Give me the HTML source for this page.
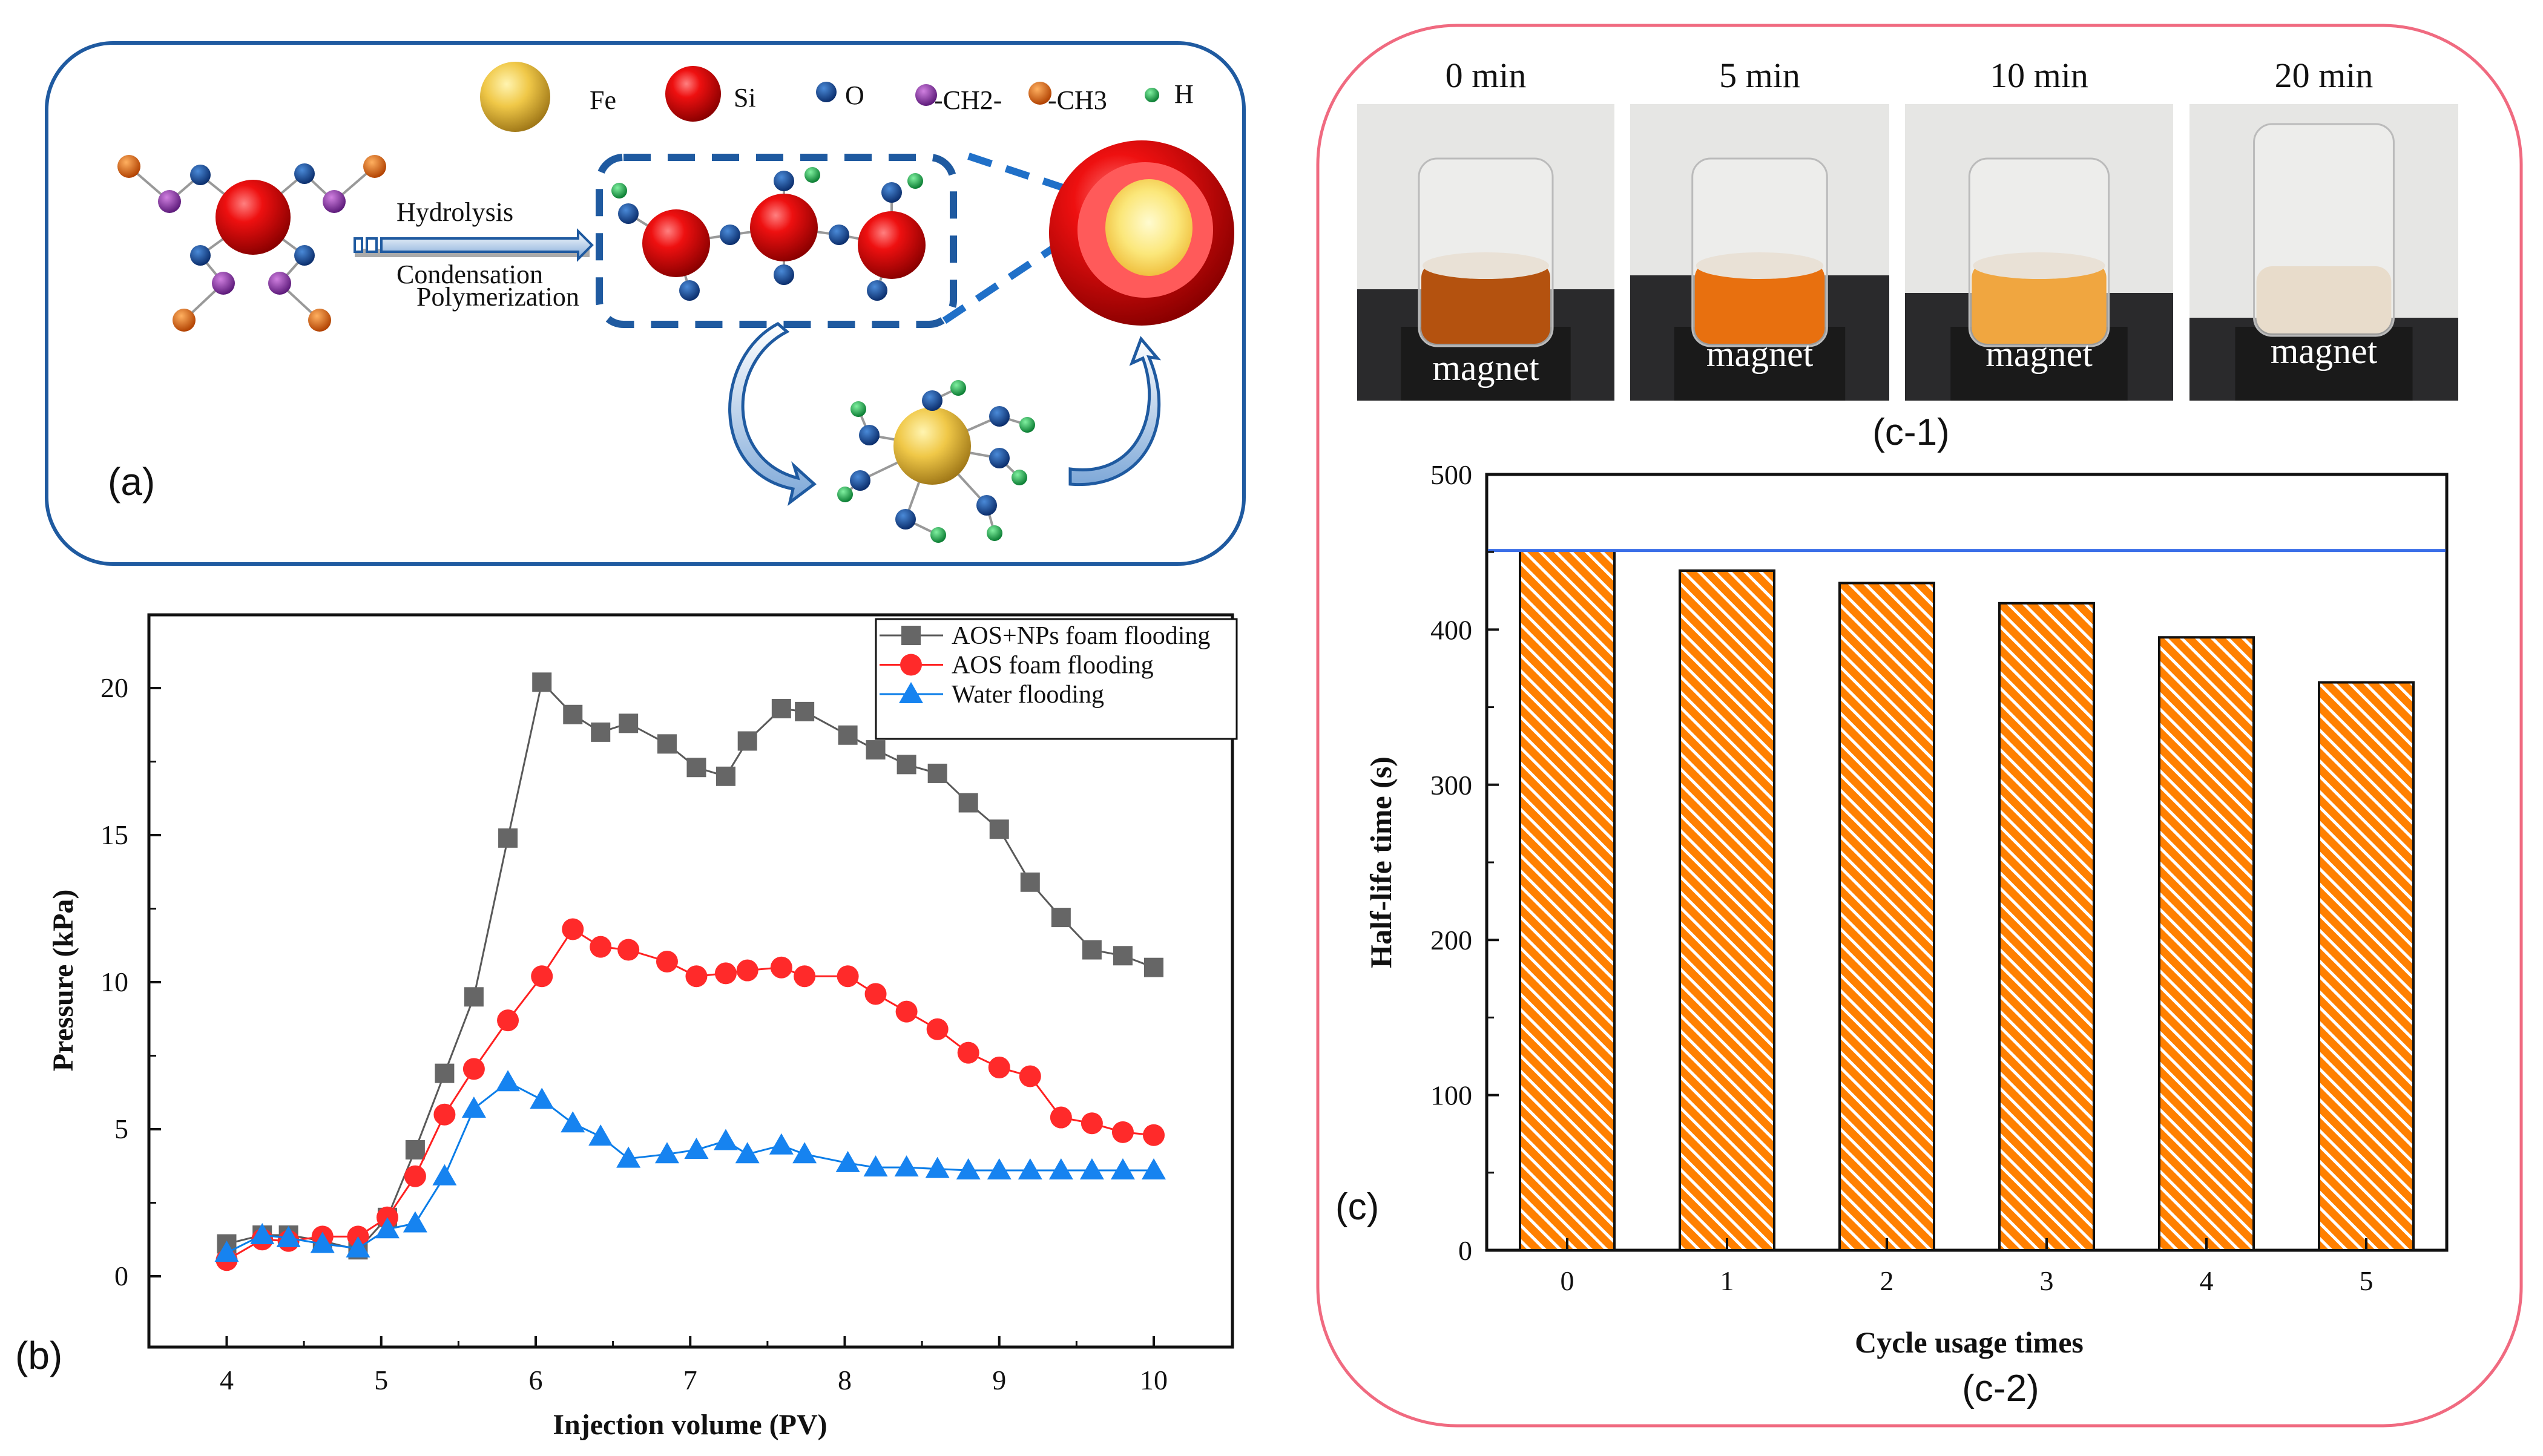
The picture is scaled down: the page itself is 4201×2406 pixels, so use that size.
<!DOCTYPE html>
<html><head><meta charset="utf-8"><style>
html,body{margin:0;padding:0;background:#fff;}
svg{display:block;}
.serif{font-family:"Liberation Serif",serif;}
.sans{font-family:"Liberation Sans",sans-serif;}
</style></head><body>
<svg id="root" width="4201" height="2406" viewBox="0 0 4201 2406" xmlns="http://www.w3.org/2000/svg">
<defs>
<radialGradient id="gRed" cx="0.38" cy="0.32" r="0.7"><stop offset="0" stop-color="#ff8080"/><stop offset="0.35" stop-color="#ee1010"/><stop offset="1" stop-color="#8a0000"/></radialGradient>
<radialGradient id="gFe" cx="0.38" cy="0.32" r="0.7"><stop offset="0" stop-color="#fff4b0"/><stop offset="0.45" stop-color="#f0c848"/><stop offset="1" stop-color="#a07818"/></radialGradient>
<radialGradient id="gO" cx="0.38" cy="0.32" r="0.7"><stop offset="0" stop-color="#4a8ad8"/><stop offset="1" stop-color="#0a2c6a"/></radialGradient>
<radialGradient id="gP" cx="0.38" cy="0.32" r="0.7"><stop offset="0" stop-color="#d080e0"/><stop offset="1" stop-color="#5a1878"/></radialGradient>
<radialGradient id="gOr" cx="0.38" cy="0.32" r="0.7"><stop offset="0" stop-color="#ffb060"/><stop offset="1" stop-color="#b04000"/></radialGradient>
<radialGradient id="gH" cx="0.38" cy="0.32" r="0.7"><stop offset="0" stop-color="#80f0a0"/><stop offset="1" stop-color="#087a30"/></radialGradient>
<radialGradient id="gCore" cx="0.5" cy="0.45" r="0.55"><stop offset="0" stop-color="#fffbd0"/><stop offset="0.6" stop-color="#fbe77a"/><stop offset="1" stop-color="#f0c040"/></radialGradient>
<linearGradient id="gArrow" x1="0" y1="0" x2="0" y2="1"><stop offset="0" stop-color="#ffffff"/><stop offset="1" stop-color="#7ea8d8"/></linearGradient>
<pattern id="hatch" patternUnits="userSpaceOnUse" width="18" height="18" patternTransform="rotate(-45)">
<rect width="18" height="18" fill="#ff8000"/><rect x="0" y="0" width="5" height="18" fill="#ffffff"/></pattern>
</defs>

<!-- Panel a -->
<g id="panelA">
<rect x="77" y="71" width="1978" height="861" rx="110" fill="#fff" stroke="#1f5aa0" stroke-width="6"/>
<g id="molecules"></g>
<text x="974" y="180" class="serif" font-size="44" fill="#111">Fe</text>
<text x="1212" y="176" class="serif" font-size="44" fill="#111">Si</text>
<text x="1396" y="172" class="serif" font-size="44" fill="#111">O</text>
<text x="1543" y="180" class="serif" font-size="44" fill="#111">-CH2-</text>
<text x="1731" y="180" class="serif" font-size="44" fill="#111">-CH3</text>
<text x="1940" y="170" class="serif" font-size="44" fill="#111">H</text>
<text x="655" y="365" class="serif" font-size="44" fill="#111">Hydrolysis</text>
<text x="655" y="468" class="serif" font-size="44" fill="#111">Condensation</text>
<text x="688" y="505" class="serif" font-size="44" fill="#111">Polymerization</text>
<text x="178" y="818" class="sans" font-size="64" fill="#111">(a)</text>
</g>

<!-- Panel b chart -->
<g id="panelB">
<rect x="246" y="1016" width="1790" height="1210" fill="none" stroke="#111" stroke-width="5"/>
<g id="bTicks"></g>
<g id="bSeries"></g>
<text transform="translate(120,1620) rotate(-90)" text-anchor="middle" class="serif" font-weight="bold" font-size="48" fill="#111">Pressure (kPa)</text>
<text x="1140" y="2370" text-anchor="middle" class="serif" font-weight="bold" font-size="48" fill="#111">Injection volume (PV)</text>
<text x="25" y="2262" class="sans" font-size="64" fill="#111">(b)</text>
<g id="bLegend">
<rect x="1447" y="1023" width="596" height="198" fill="#fff" stroke="#111" stroke-width="3"/>
</g>
</g>

<!-- Panel c -->
<g id="panelC">
<rect x="2177" y="42" width="1988" height="2314" rx="230" fill="#fff" stroke="#f06a80" stroke-width="5"/>
<g id="photos"></g>
<text x="3157" y="735" text-anchor="middle" class="sans" font-size="62" fill="#111">(c-1)</text>
<rect x="2456" y="784" width="1586" height="1282" fill="none" stroke="#111" stroke-width="5"/>
<g id="cBars"></g>
<g id="cTicks"></g>
<text transform="translate(2298,1425) rotate(-90)" text-anchor="middle" class="serif" font-weight="bold" font-size="50" fill="#111">Half-life time (s)</text>
<text x="3253" y="2235" text-anchor="middle" class="serif" font-weight="bold" font-size="50" fill="#111">Cycle usage times</text>
<text x="3305" y="2315" text-anchor="middle" class="sans" font-size="62" fill="#111">(c-2)</text>
<text x="2206" y="2015" class="sans" font-size="62" fill="#111">(c)</text>
</g>
</svg>
<script>
// ---------- Chart b data ----------
const bX = [4,4.23,4.4,4.62,4.85,5.04,5.22,5.41,5.6,5.82,6.04,6.24,6.42,6.6,6.85,7.04,7.23,7.37,7.59,7.74,8.02,8.2,8.4,8.6,8.8,9.0,9.2,9.4,9.6,9.8,10];
const bGray = [1.1,1.4,1.4,1.2,0.9,2.0,4.3,6.9,9.5,14.9,20.2,19.1,18.5,18.8,18.1,17.3,17.0,18.2,19.3,19.2,18.4,17.9,17.4,17.1,16.1,15.2,13.4,12.2,11.1,10.9,10.5];
const bRed = [0.55,1.25,1.2,1.35,1.35,2.0,3.4,5.5,7.05,8.7,10.2,11.8,11.2,11.1,10.7,10.2,10.3,10.4,10.5,10.2,10.2,9.6,9.0,8.4,7.6,7.1,6.8,5.4,5.2,4.9,4.8];
const bBlue = [0.8,1.4,1.3,1.1,0.95,1.6,1.8,3.4,5.7,6.6,6.0,5.2,4.75,4.0,4.15,4.3,4.6,4.15,4.45,4.15,3.85,3.7,3.7,3.65,3.6,3.6,3.6,3.6,3.6,3.6,3.6];
const bXTicks = [4,5,6,7,8,9,10];
const bYTicks = [0,5,10,15,20];
const bSeriesNames = ["AOS+NPs foam flooding","AOS foam flooding","Water flooding"];
// ---------- Chart c data ----------
const cCats = [0,1,2,3,4,5];
const cVals = [451,438,430,417,395,366];
const cRef = [451];
const cYTicks = [0,100,200,300,400,500];
const photoLabels = ["0 min","5 min","10 min","20 min"];

const NS="http://www.w3.org/2000/svg";
function mk(tag, attrs, parent){const e=document.createElementNS(NS,tag);for(const k in attrs)e.setAttribute(k,attrs[k]);if(parent)parent.appendChild(e);return e;}

// axis functions b
const bx = v => 374.5 + (v-4)*(1906-374.5)/6;
const by = v => 2109 - v*(2109-1137)/20;
const bT=document.getElementById('bTicks');
bXTicks.forEach(t=>{
  const l=mk('line',{x1:bx(t),x2:bx(t),y1:2226,y2:2208,stroke:'#111','stroke-width':4},bT);
  
  
  const tx=mk('text',{x:bx(t),y:2296,'text-anchor':'middle','font-size':46,'class':'serif',fill:'#111'},bT);
  tx.textContent=t;
  
  
  if(t<10){const m=mk('line',{x1:bx(t+0.5),x2:bx(t+0.5),y1:2226,y2:2216,stroke:'#111','stroke-width':3},bT);
  
  }
});
bYTicks.forEach(t=>{
  const l=mk('line',{x1:246,x2:266,y1:by(t),y2:by(t),stroke:'#111','stroke-width':4},bT);
  
  
  const tx=mk('text',{x:212,y:by(t)+15,'text-anchor':'end','font-size':46,'class':'serif',fill:'#111'},bT);
  tx.textContent=t;
  
  
  if(t<20){const m=mk('line',{x1:246,x2:258,y1:by(t+2.5),y2:by(t+2.5),stroke:'#111','stroke-width':3},bT);
  
  }
});
const bS=document.getElementById('bSeries');
function marker(g,kind,x,y,col){
  let m;
  if(kind==='sq') m=mk('rect',{x:x-16,y:y-16,width:32,height:32,fill:col},g);
  else if(kind==='ci') m=mk('circle',{cx:x,cy:y,r:18,fill:col},g);
  else m=mk('polygon',{points:`${x},${y-20} ${x+20},${y+15} ${x-20},${y+15}`,fill:col},g);
  return m;
}
const seriesDefs=[[bGray,'#595959','#666666','sq'],[bRed,'#ff2020','#ff2a2a','ci'],[bBlue,'#0a7de8','#1683f0','tr']];
seriesDefs.forEach((s,i)=>{
  const g=mk('g',{},bS);
  
  
  const pl=mk('polyline',{points:bX.map((x,j)=>bx(x)+','+by(s[0][j])).join(' '),fill:'none',stroke:s[1],'stroke-width':3},g);
  
  
  bX.forEach((x,j)=>{const m=marker(g,s[3],bx(x),by(s[0][j]),s[2]);
    
    });
});
const bL=document.getElementById('bLegend');
seriesDefs.forEach((s,i)=>{
  const y=1050+i*48.5;
  const ln=mk('line',{x1:1453,x2:1558,y1:y,y2:y,stroke:s[1],'stroke-width':3},bL);
  
  
  const m=marker(bL,s[3],1505,y,s[2]);
  
  
  const t=mk('text',{x:1572,y:y+14,'font-size':42,'class':'serif',fill:'#111'},bL);
  t.textContent=bSeriesNames[i];
  
  
});

// axis functions c
const cx = c => 2589 + c*(3909-2589)/5;
const cy = v => 2066 - v*(2066-784)/500;
const cB=document.getElementById('cBars');
cCats.forEach((c,i)=>{
  const r=mk('rect',{x:cx(c)-78,y:cy(cVals[i]),width:156,height:cy(0)-cy(cVals[i]),fill:'url(#hatch)',stroke:'#111','stroke-width':4},cB);
  
  
});
const ref=mk('line',{x1:2458,x2:4040,y1:cy(cRef[0]),y2:cy(cRef[0]),stroke:'#3a6ee8','stroke-width':5},cB);


const cT=document.getElementById('cTicks');
cCats.forEach(c=>{
  const l=mk('line',{x1:cx(c),x2:cx(c),y1:2066,y2:2046,stroke:'#111','stroke-width':4},cT);
  
  
  const t=mk('text',{x:cx(c),y:2132,'text-anchor':'middle','font-size':46,'class':'serif',fill:'#111'},cT);
  t.textContent=c;
  
  
});
cYTicks.forEach(v=>{
  const l=mk('line',{x1:2456,x2:2476,y1:cy(v),y2:cy(v),stroke:'#111','stroke-width':4},cT);
  
  
  const t=mk('text',{x:2432,y:cy(v)+16,'text-anchor':'end','font-size':46,'class':'serif',fill:'#111'},cT);
  t.textContent=v;
  
  
  if(v<500){const m=mk('line',{x1:2456,x2:2468,y1:cy(v+50),y2:cy(v+50),stroke:'#111','stroke-width':3},cT);
  
  }
});

// photos
const ph=document.getElementById('photos');
const photoBoxes=[[2242,2667,478,'#b4520f'],[2693,3121,455,'#e8700f'],[3147,3590,484,'#f0a640'],[3617,4061,525,'#e8dccb']];
photoBoxes.forEach((p,i)=>{
  const [x0,x1,tb,liq]=p, w=x1-x0, top=172, bot=662;
  const g=mk('g',{},ph);
  
  
  mk('rect',{x:x0,y:top,width:w,height:bot-top,fill:'#e6e6e4'},g);
  mk('rect',{x:x0,y:tb,width:w,height:bot-tb,fill:'#2a2a2c'},g);
  const mx=x0+w*0.17, mw=w*0.66;
  mk('rect',{x:mx,y:540,width:mw,height:bot-540,fill:'#1a1a1a'},g);
  const bx0=x0+w*0.24, bw=w*0.52, btop=i===3?205:262, bbot=i===3?555:572;
  mk('rect',{x:bx0,y:btop,width:bw,height:bbot-btop,rx:30,fill:'#f2f2f0','fill-opacity':0.6,stroke:'#bbbbbb','stroke-width':3},g);
  const ly=i===3?440:433;
  mk('rect',{x:bx0+4,y:ly,width:bw-8,height:bbot-ly-4,rx:26,fill:liq},g);
  if(i<3) mk('ellipse',{cx:bx0+bw/2,cy:ly+6,rx:bw/2-6,ry:22,fill:'#e9e1d6'},g);
  const t=mk('text',{x:x0+w/2,y:144,'text-anchor':'middle','font-size':58,'class':'serif',fill:'#111'},ph);
  t.textContent=photoLabels[i];
  
  
  const m=mk('text',{x:x0+w/2,y:i===0?628:(i===3?600:605),'text-anchor':'middle','font-size':60,'class':'serif',fill:'#fff'},ph);
  m.textContent='magnet';
  
  
});

// molecules panel a
const mol=document.getElementById('molecules');
function bond(a,b){mk('line',{x1:a[0],y1:a[1],x2:b[0],y2:b[1],stroke:'#999','stroke-width':4},mol);}
function ball(p,r,f){mk('circle',{cx:p[0],cy:p[1],r:r,fill:f},mol);}
const si0=[418,359], Os=[[331,289],[503,287],[331,422],[503,422]], Ps=[[280,333],[552,333],[369,468],[462,468]], Ors=[[213,275],[619,275],[304,529],[528,529]];
Os.forEach((o,i)=>{bond(si0,o);bond(o,Ps[i]);bond(Ps[i],Ors[i]);});
ball(si0,62,'url(#gRed)');
Os.forEach(o=>ball(o,17,'url(#gO)'));Ps.forEach(o=>ball(o,19,'url(#gP)'));Ors.forEach(o=>ball(o,19,'url(#gOr)'));
mk('rect',{x:586,y:411,width:388,height:14,fill:'#aaaaaa'},mol);
mk('rect',{x:586,y:394,width:12,height:22,fill:'#fff',stroke:'#1f5aa0','stroke-width':4},mol);
mk('rect',{x:606,y:394,width:16,height:22,fill:'#fff',stroke:'#1f5aa0','stroke-width':4},mol);
mk('polygon',{points:'630,394 955,394 955,382 978,405 955,428 955,416 630,416',fill:'url(#gArrow)',stroke:'#1f5aa0','stroke-width':4},mol);
mk('rect',{x:990,y:260,width:585,height:276,rx:40,fill:'none',stroke:'#1f5aa0','stroke-width':12,'stroke-dasharray':'45,28'},mol);
mk('polyline',{points:'1600,258 1780,318',fill:'none',stroke:'#2070c8','stroke-width':12,'stroke-dasharray':'40,25'},mol);
mk('polyline',{points:'1560,530 1740,410',fill:'none',stroke:'#2070c8','stroke-width':12,'stroke-dasharray':'40,25'},mol);
const sis=[[1117,402],[1295,376],[1473,405]];
const cO=[[1038,353],[1206,388],[1386,388],[1295,299],[1473,318],[1139,480],[1295,454],[1449,480]];
bond(sis[0],cO[0]);bond(sis[0],cO[1]);bond(cO[1],sis[1]);bond(sis[1],cO[2]);bond(cO[2],sis[2]);bond(sis[1],cO[3]);bond(sis[2],cO[4]);bond(sis[0],cO[5]);bond(sis[1],cO[6]);bond(sis[2],cO[7]);
sis.forEach(s=>ball(s,56,'url(#gRed)'));
cO.forEach(o=>ball(o,17,'url(#gO)'));
[[1023,315],[1342,289],[1512,299]].forEach(h=>ball(h,13,'url(#gH)'));
ball([1886,385],153,'url(#gRed)');
mk('circle',{cx:1892,cy:380,r:112,fill:'#ff5a5a'},mol);
mk('ellipse',{cx:1898,cy:376,rx:72,ry:80,fill:'url(#gCore)'},mol);
const fe=[1540,737];
const fO=[[1540,662],[1651,688],[1651,757],[1630,835],[1496,858],[1421,794],[1436,719]];
const fH=[[1583,641],[1697,702],[1684,789],[1643,881],[1550,884],[1396,817],[1418,676]];
fO.forEach((o,i)=>{bond(fe,o);bond(o,fH[i]);});
ball(fe,64,'url(#gFe)');
fO.forEach(o=>ball(o,17,'url(#gO)'));fH.forEach(h=>ball(h,13,'url(#gH)'));
mk('path',{d:'M1300,548 C1200,600 1200,760 1318,790 L1312,770 L1345,800 L1305,830 L1310,808 C1170,780 1180,590 1285,535 Z',fill:'url(#gArrow)',stroke:'#1f5aa0','stroke-width':5},mol);
mk('path',{d:'M1768,775 C1880,790 1920,680 1888,592 L1870,600 L1885,560 L1912,592 L1898,590 C1945,700 1890,810 1768,800 Z',fill:'url(#gArrow)',stroke:'#1f5aa0','stroke-width':5},mol);
ball([851,160],58,'url(#gFe)');ball([1145,155],46,'url(#gRed)');ball([1365,152],17,'url(#gO)');ball([1530,157],18,'url(#gP)');ball([1718,154],19,'url(#gOr)');ball([1903,157],12,'url(#gH)');
</script>
</body></html>
